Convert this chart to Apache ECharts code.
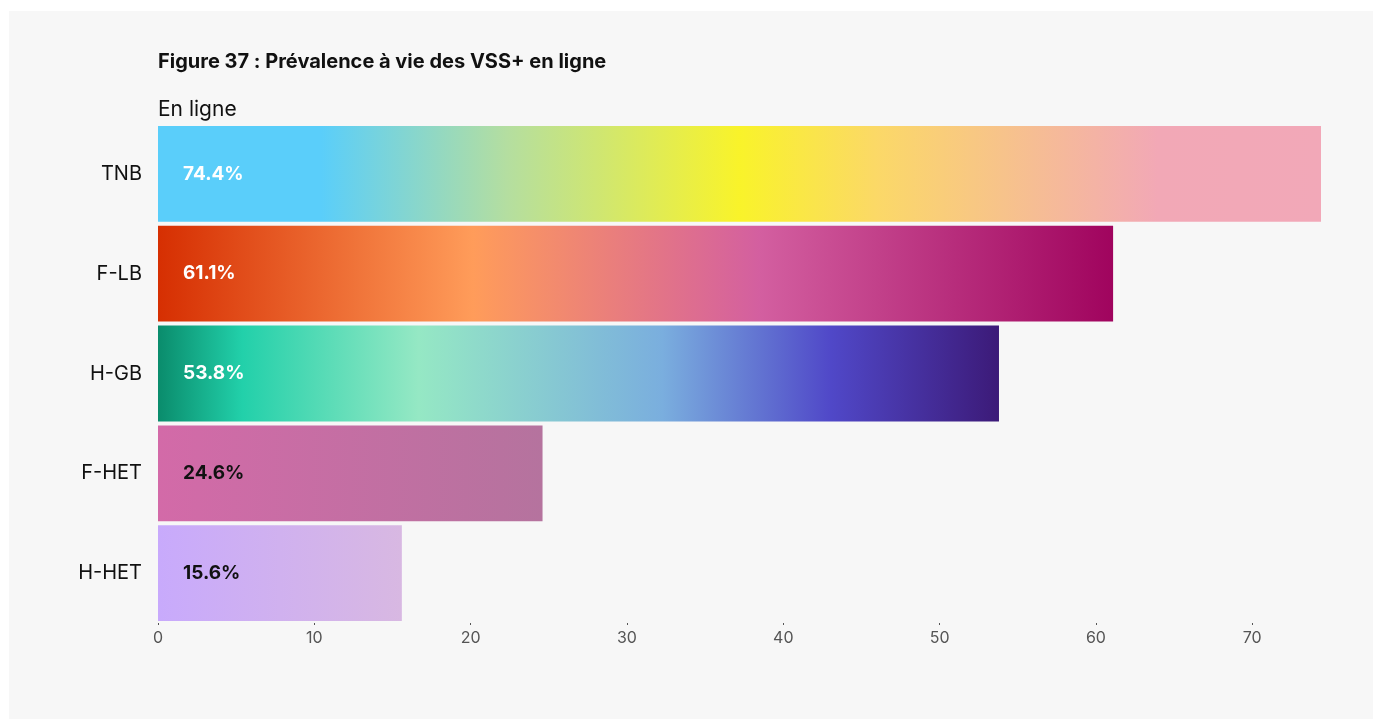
<!DOCTYPE html>
<html>
<head>
<meta charset="utf-8">
<script src="https://cdn.jsdelivr.net/npm/echarts@6/dist/echarts.min.js"></script>
<style>
html,body{margin:0;padding:0;background:#ffffff;}
#panel{position:absolute;left:9px;top:11px;width:1364px;height:708px;background:#f7f7f7;}
#chart{position:absolute;left:0;top:0;width:1374px;height:719px;}
</style>
</head>
<body>
<div id="panel"></div>
<div id="chart"></div>
<script>
const categories = ['TNB', 'F-LB', 'H-GB', 'F-HET', 'H-HET'];
const values = [74.4, 61.1, 53.8, 24.6, 15.6];
const tickValues = [0, 10, 20, 30, 40, 50, 60, 70];
const labelColors = ['#ffffff', '#ffffff', '#ffffff', '#111111', '#111111'];
const gradients = [
  [[0, '#5acefa'], [0.14, '#5acefa'], [0.3, '#b4dea0'], [0.5, '#f9f32a'], [0.62, '#fbd868'], [0.86, '#f2a8b6'], [1, '#f2a8b8']],
  [[0, '#d62f02'], [0.33, '#ff9c5a'], [0.63, '#d35fa0'], [1, '#a0045e']],
  [[0, '#0a8c6c'], [0.1, '#22d0aa'], [0.31, '#95e8c4'], [0.6, '#7aaede'], [0.8, '#5048c8'], [1, '#3c1a78']],
  [[0, '#d36aa8'], [1, '#b5739e']],
  [[0, '#c8aafc'], [1, '#d8b8e2']]
];

const chart = echarts.init(document.getElementById('chart'), null, {renderer: 'canvas'});
const FONT = 'Inter, "Noto Sans", sans-serif';

chart.setOption({
  backgroundColor: 'transparent',
  animation: false,
  title: [
    {text: 'Figure 37 : Prévalence à vie des VSS+ en ligne', left: 158, top: 52, padding: 0,
     textStyle: {fontFamily: FONT, fontSize: 20, fontWeight: 'bold', color: '#111111', letterSpacing: 0.1}},
    {text: 'En ligne', left: 158, top: 99, padding: 0,
     textStyle: {fontFamily: FONT, fontSize: 21, fontWeight: 'normal', color: '#111111'}}
  ],
  grid: {left: 158, right: 53, top: 124, height: 499, containLabel: false},
  xAxis: {
    type: 'value', min: 0, max: 'dataMax', interval: 10,
    splitLine: {show: false},
    axisLine: {show: false},
    axisTick: {show: true, length: 2, lineStyle: {color: '#555555'}, customValues: tickValues},
    axisLabel: {color: '#555555', fontFamily: FONT, fontSize: 16, margin: 7, customValues: tickValues}
  },
  yAxis: {
    type: 'category', data: categories, inverse: true,
    axisLine: {show: false}, axisTick: {show: false},
    axisLabel: {color: '#111111', fontFamily: FONT, fontSize: 20, margin: 16}
  },
  series: [{
    type: 'bar',
    barCategoryGap: '4%',
    data: values.map((v, i) => ({
      value: v,
      itemStyle: {color: new echarts.graphic.LinearGradient(0, 0, 1, 0,
        gradients[i].map(s => ({offset: s[0], color: s[1]})))},
      label: {color: labelColors[i]}
    })),
    label: {
      show: true, position: 'insideLeft', distance: 25,
      fontFamily: FONT, fontSize: 19, fontWeight: 'bold', letterSpacing: -0.3,
      formatter: p => p.value.toFixed(1) + '%'
    }
  }]
});
</script>
</body>
</html>
